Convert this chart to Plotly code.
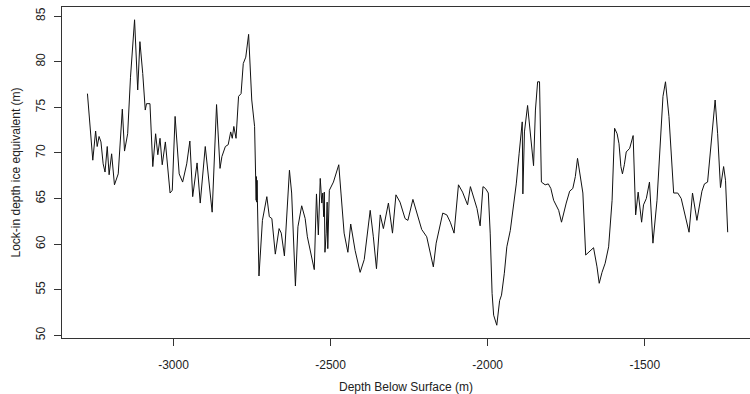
import plotly.graph_objects as go

# Depth below surface (m) and lock-in depth ice equivalent (m)
depth = [
    -3274, -3264, -3257, -3248, -3243, -3237, -3231, -3224, -3218, -3211,
    -3205, -3197, -3188, -3176, -3163, -3156, -3146, -3137, -3124, -3114,
    -3107, -3098, -3090, -3086, -3075, -3066, -3057, -3050, -3043, -3036,
    -3026, -3011, -3004, -2995, -2982, -2971, -2958, -2948, -2939, -2925,
    -2915, -2899, -2887, -2877, -2863, -2852, -2846, -2835, -2826, -2818,
    -2813, -2808, -2801, -2793, -2785, -2778, -2770, -2761, -2751, -2742,
    -2737, -2736, -2735, -2734, -2733, -2728, -2717, -2703, -2695, -2687,
    -2676, -2664, -2657, -2647, -2631, -2624, -2612, -2604, -2592, -2581,
    -2574, -2563, -2552, -2545, -2539, -2533, -2528, -2525, -2522, -2520,
    -2518, -2514, -2511, -2509, -2504, -2491, -2474, -2467, -2457, -2445,
    -2436, -2422, -2406, -2393, -2383, -2374, -2364, -2354, -2342, -2332,
    -2316, -2303, -2292, -2279, -2263, -2254, -2238, -2226, -2210, -2194,
    -2185, -2173, -2164, -2151, -2143, -2130, -2119, -2107, -2093, -2080,
    -2064, -2055, -2045, -2034, -2024, -2015, -2007, -1998, -1992, -1986,
    -1981, -1971, -1962, -1956, -1947, -1939, -1928, -1918, -1909, -1900,
    -1890, -1888, -1883, -1873, -1862, -1854, -1848, -1841, -1835, -1829,
    -1817, -1807, -1799, -1790, -1774, -1765, -1750, -1739, -1729, -1721,
    -1714, -1705, -1697, -1688, -1673, -1663, -1652, -1645, -1636, -1626,
    -1615, -1604, -1596, -1588, -1582, -1576, -1571, -1565, -1559, -1548,
    -1537, -1529, -1521, -1510, -1504, -1495, -1485, -1474, -1461, -1450,
    -1442, -1434, -1423, -1408, -1395, -1384, -1374, -1359, -1348, -1334,
    -1318, -1310, -1300, -1291, -1283, -1276, -1268, -1259, -1249, -1243,
    -1236,
]

lock_in = [
    76.5, 72.3, 69.2, 72.4, 70.7, 71.8, 71.2, 68.8, 67.9, 70.7,
    67.6, 69.9, 66.5, 67.7, 74.8, 70.2, 72.1, 78.3, 84.6, 76.9,
    82.2, 78.7, 74.7, 75.4, 75.4, 68.5, 72.1, 69.8, 71.6, 68.7,
    71.2, 65.6, 65.9, 74.0, 67.7, 66.8, 68.8, 71.3, 65.2, 68.9,
    64.5, 70.7, 67.0, 63.5, 75.3, 68.3, 69.6, 70.7, 70.9, 72.3,
    71.6, 72.9, 71.6, 76.2, 76.5, 79.8, 80.5, 83.0, 75.8, 72.9,
    64.8, 67.4, 64.6, 67.0, 64.8, 56.5, 62.6, 65.2, 63.0, 62.8,
    58.9, 61.7, 61.2, 58.7, 68.1, 65.6, 55.4, 61.9, 64.2, 62.8,
    60.8, 59.0, 57.2, 65.5, 61.0, 67.2, 64.5, 65.6, 63.0, 65.7,
    59.1, 61.2, 64.6, 59.5, 65.9, 66.8, 68.7, 65.6, 61.2, 59.1,
    62.2, 59.3, 56.9, 58.3, 61.5, 63.7, 60.8, 57.3, 63.2, 61.7,
    64.5, 61.2, 65.4, 64.6, 62.8, 62.6, 64.9, 63.4, 61.6, 60.8,
    59.3, 57.5, 60.1, 62.4, 63.4, 63.2, 62.4, 61.2, 66.5, 65.7,
    64.3, 66.3, 65.2, 63.9, 62.0, 66.3, 66.1, 65.6, 61.2, 54.6,
    52.2, 51.1, 53.8, 54.4, 56.8, 59.7, 61.5, 64.1, 66.6, 69.9,
    73.4, 65.5, 72.3, 75.2, 71.8, 68.6, 74.7, 77.8, 77.8, 66.8,
    66.5, 66.6, 66.1, 64.8, 63.7, 62.4, 64.5, 65.8, 66.1, 67.4,
    69.4, 67.4, 65.6, 58.8, 59.3, 59.6, 57.5, 55.7, 56.9, 57.9,
    59.7, 64.8, 72.7, 72.1, 71.0, 68.5, 67.7, 68.7, 70.1, 70.5,
    71.9, 63.2, 65.7, 62.4, 64.3, 65.0, 66.8, 60.1, 64.8, 70.7,
    76.2, 77.8, 74.0, 65.6, 65.6, 65.0, 63.4, 61.3, 65.6, 62.6,
    65.8, 66.6, 66.8, 69.9, 72.9, 75.8, 72.1, 66.2, 68.5, 67.0,
    61.3,
]

x_tick_vals = [-3000, -2500, -2000, -1500]
x_tick_text = ["-3000", "-2500", "-2000", "-1500"]
y_tick_vals = [50, 55, 60, 65, 70, 75, 80, 85]
y_tick_text = ["50", "55", "60", "65", "70", "75", "80", "85"]

font_family = "Liberation Sans, Arial, sans-serif"
axis_color = "#333333"
text_color = "#222222"

fig = go.Figure()
fig.add_trace(go.Scatter(
    x=depth, y=lock_in, mode="lines",
    line=dict(color="#111111", width=1),
    hoverinfo="skip", showlegend=False,
))

fig.update_layout(
    width=750, height=394,
    margin=dict(l=62, r=0, t=7, b=56),
    paper_bgcolor="white", plot_bgcolor="white",
    font=dict(family=font_family, size=12, color=text_color),
    xaxis=dict(
        range=[-3355, -1165],
        tickmode="array", tickvals=x_tick_vals, ticktext=x_tick_text,
        ticks="outside", ticklen=7, tickwidth=1, tickcolor=axis_color,
        ticklabelstandoff=9,
        showline=True, mirror=True, linecolor=axis_color, linewidth=1,
        showgrid=False, zeroline=False,
        tickfont=dict(size=12, color=text_color),
        title=dict(text="Depth Below Surface (m)", font=dict(size=12, color=text_color), standoff=11),
    ),
    yaxis=dict(
        range=[49.7, 86.0],
        tickmode="array", tickvals=y_tick_vals, ticktext=y_tick_text,
        tickangle=-90,
        ticks="outside", ticklen=7, tickwidth=1, tickcolor=axis_color,
        ticklabelstandoff=4,
        showline=True, mirror=False, linecolor=axis_color, linewidth=1,
        showgrid=False, zeroline=False,
        tickfont=dict(size=12, color=text_color),
        title=dict(text="Lock-in depth ice equivalent (m)", font=dict(size=12, color=text_color), standoff=11),
    ),
)

fig.write_html("out.html")
